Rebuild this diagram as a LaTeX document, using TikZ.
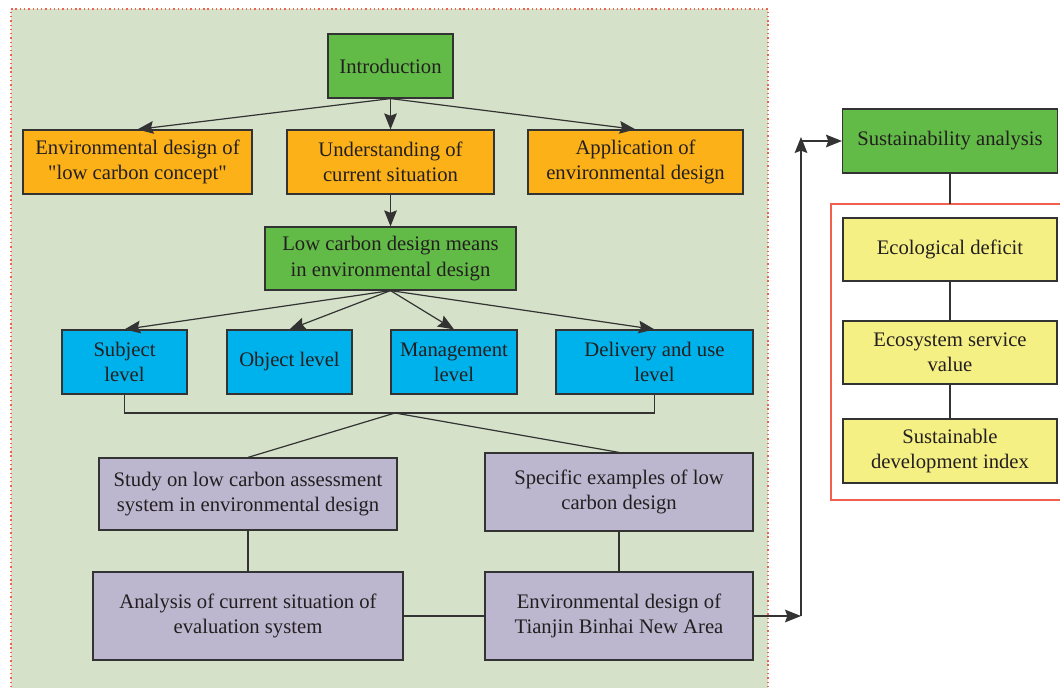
\documentclass[tikz,border=0pt]{standalone}
\usepackage{fontspec}
\setmainfont{Liberation Serif}[Ligatures=TeXOff]
\usetikzlibrary{arrows.meta}
\definecolor{bggreen}{HTML}{D5E1C8}
\definecolor{dotred}{HTML}{F0604C}
\definecolor{boxgreen}{HTML}{62BB47}
\definecolor{boxorange}{HTML}{FBB117}
\definecolor{boxblue}{HTML}{00B2EB}
\definecolor{boxpurple}{HTML}{BDB6CF}
\definecolor{boxyellow}{HTML}{F5F083}
\definecolor{edge}{HTML}{333333}
\definecolor{txt}{HTML}{231F20}
\begin{document}
\begin{tikzpicture}[x=0.75pt,y=-0.75pt,
  box/.style={draw=edge, line width=0.9pt, align=center, inner sep=0pt,
    text=txt, font=\fontsize{15.5}{19}\selectfont},
  gbox/.style={box, fill=boxgreen},
  obox/.style={box, fill=boxorange, minimum height=48pt},
  bbox/.style={box, fill=boxblue, minimum height=48pt},
  pbox/.style={box, fill=boxpurple},
  ybox/.style={box, fill=boxyellow, minimum width=160.5pt, minimum height=47.25pt},
  link/.style={draw=edge, line width=0.9pt},
  arr/.style={link, -{Stealth[length=12pt,width=9.5pt,inset=1.8pt]}}]
\useasboundingbox (0,0) rectangle (1060,688);
% background panel
\fill[bggreen] (11,9) rectangle (768,700);
\draw[dotred, line width=0.8pt, dash pattern=on 1pt off 2.2pt] (11,700) -- (11,9) -- (768,9) -- (768,700);
% red frame
\draw[dotred, line width=1pt] (831,204) rectangle (1066,500);

% nodes
\node[gbox, minimum width=93.75pt, minimum height=48pt] (intro) at (390.5,66) {Introduction};
\node[obox, minimum width=171.75pt] (env) at (137.5,162) {Environmental design of\\"low carbon concept"};
\node[obox, minimum width=155.25pt] (under) at (390.5,162) {Understanding of\\current situation};
\node[obox, minimum width=161.25pt] (appl) at (635.5,162) {Application of\\environmental design};
\node[gbox, minimum width=188.25pt, minimum height=47.25pt] (means) at (390.5,258.5) {Low carbon design means\\in environmental design};
\node[bbox, minimum width=93.75pt] (subj) at (124.5,362) {Subject\\level};
\node[bbox, minimum width=93.75pt] (obj) at (289.5,362) {Object level};
\node[bbox, minimum width=94.5pt] (mgmt) at (454,362) {Management\\level};
\node[bbox, minimum width=147.75pt] (deliv) at (654.5,362) {Delivery and use\\level};
\node[pbox, minimum width=223.5pt, minimum height=54pt] (study) at (248,494) {Study on low carbon assessment\\system in environmental design};
\node[pbox, minimum width=201pt, minimum height=58.5pt] (spec) at (619,492) {Specific examples of low\\carbon design};
\node[pbox, minimum width=232.5pt, minimum height=66pt] (anal) at (248,616) {Analysis of current situation of\\evaluation system};
\node[pbox, minimum width=201pt, minimum height=66pt] (tianjin) at (619,616) {Environmental design of\\Tianjin Binhai New Area};
\node[gbox, minimum width=161.25pt, minimum height=48pt] (sust) at (950,141) {Sustainability analysis};
\node[ybox] (eco) at (950,249.5) {Ecological deficit};
\node[ybox] (ecosys) at (950,352.5) {Ecosystem service\\value};
\node[ybox, minimum height=48pt] (sdi) at (950,451) {Sustainable\\development index};

% connectors
\draw[arr] (intro.south) -- (env.north);
\draw[arr] (intro.south) -- (under.north);
\draw[arr] (intro.south) -- (appl.north);
\draw[arr] (under.south) -- (means.north);
\draw[arr] (means.south) -- (subj.north);
\draw[arr] (means.south) -- (obj.north);
\draw[arr] (means.south) -- (mgmt.north);
\draw[arr] (means.south) -- (deliv.north);
\coordinate (J) at (395,413);
\draw[link] (subj.south) |- (J -| deliv.south) -- (deliv.south);
\draw[link] (J) -- (study.north);
\draw[link] (J) -- (spec.north);
\draw[link] (study.south) -- (anal.north);
\draw[link] (spec.south) -- (tianjin.north);
\draw[link] (anal.east |- tianjin.west) -- (tianjin.west);
\coordinate (K) at (801,616);
\coordinate (T) at (801,137);
\draw[arr] (tianjin.east) -- (K);
\draw[arr] (K) -- (T);
\draw[arr] (sust.west -| K) -- (sust.west);
\coordinate (F) at (950,204);
\draw[link] (sust.south) -- (F);
\draw[link] (eco.south) -- (ecosys.north);
\draw[link] (ecosys.south) -- (sdi.north);
\end{tikzpicture}
\end{document}
